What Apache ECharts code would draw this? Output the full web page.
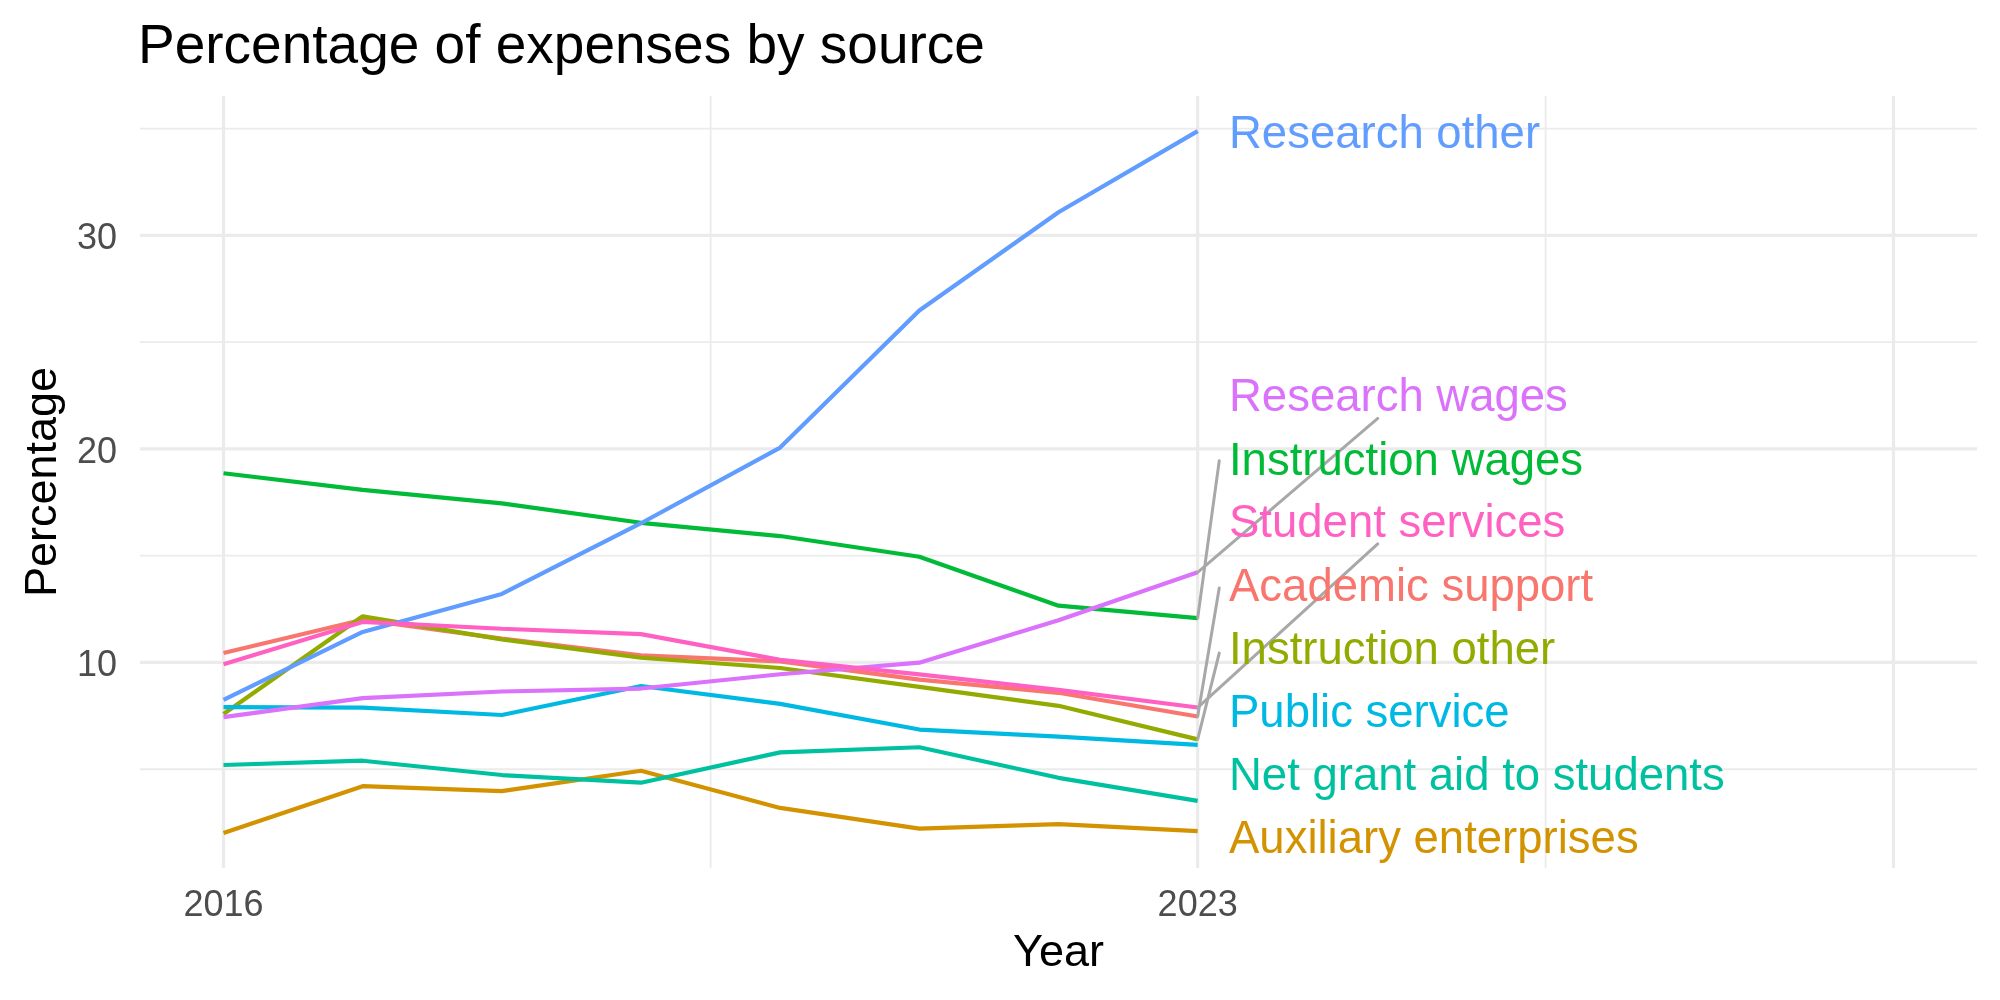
<!DOCTYPE html>
<html>
<head>
<meta charset="utf-8">
<script src="https://cdn.jsdelivr.net/npm/echarts@6/dist/echarts.min.js"></script>
<style>html,body{margin:0;padding:0;background:#fff}#c{width:2000px;height:1000px}</style>
</head>
<body>
<div id="c"></div>
<script>
// ---------- data ----------
const years = [2016, 2017, 2018, 2019, 2020, 2021, 2022, 2023];

const seriesNames = [
  "Academic support", "Auxiliary enterprises", "Instruction other", "Instruction wages",
  "Net grant aid to students", "Public service", "Research other", "Research wages", "Student services"
];
const seriesColors = ["#F8766D", "#D39200", "#93AA00", "#00BA38", "#00C19F", "#00B9E3", "#619CFF", "#DB72FB", "#FF61C3"];

const academicSupport   = [10.44, 12.00, 11.12, 10.33, 10.05, 9.20, 8.58, 7.47];
const auxiliaryEnterprises = [2.02, 4.21, 3.98, 4.93, 3.19, 2.22, 2.43, 2.10];
const instructionOther  = [7.59, 12.16, 11.08, 10.22, 9.74, 8.86, 7.97, 6.40];
const instructionWages  = [18.86, 18.08, 17.45, 16.54, 15.92, 14.95, 12.66, 12.08];
const netGrantAid       = [5.20, 5.40, 4.73, 4.37, 5.79, 6.03, 4.60, 3.52];
const publicService     = [7.91, 7.89, 7.54, 8.90, 8.06, 6.86, 6.53, 6.14];
const researchOther     = [8.25, 11.43, 13.21, 16.52, 20.06, 26.48, 31.08, 34.88];
const researchWages     = [7.44, 8.33, 8.64, 8.78, 9.45, 9.99, 11.98, 14.22];
const studentServices   = [9.92, 11.90, 11.58, 11.33, 10.12, 9.44, 8.72, 7.89];

const seriesValues = [academicSupport, auxiliaryEnterprises, instructionOther, instructionWages,
  netGrantAid, publicService, researchOther, researchWages, studentServices];

// repelled label positions (data units) and connector ends
const labelX = 2023.225;
const labelY = [13.66, 1.84, 10.71, 19.57, 4.81, 7.75, 34.88, 22.54, 16.65];
const segmentEndX = [2023.155, null, 2023.155, 2023.155, null, null, null, 2024.294, 2024.294];
const segmentEndY = [13.49, null, 10.44, 19.44, null, null, null, 21.43, 15.55];

// axis ticks / grid
const xTickLabels = [2016, 2023];
const xGridMajor = [2016, 2023, 2028];
const xGridMinor = [2019.5, 2025.5];
const yTickLabels = [10, 20, 30];
const yGridMinor = [5, 15, 25, 35];
const xDataRange = [2016, 2028];

// ---------- scales (ggplot-style 5% expansion) ----------
const allVals = seriesValues.flat();
const yLo = Math.min(...allVals), yHi = Math.max(...allVals);
const yPad = (yHi - yLo) * 0.05;
const xPad = (xDataRange[1] - xDataRange[0]) * 0.05;

const FONT = "'Liberation Sans', Arial, Helvetica, sans-serif";

function gridSeries(kind, values, width) {
  return {
    type: 'custom', silent: true, z: 1, animation: false,
    data: values.map(v => [v]),
    renderItem: (params, api) => {
      const cs = params.coordSys;
      const v = api.value(0);
      let shape;
      if (kind === 'x') {
        const p = api.coord([v, yLo]);
        shape = { x1: p[0], y1: cs.y, x2: p[0], y2: cs.y + cs.height };
      } else {
        const p = api.coord([xDataRange[0], v]);
        shape = { x1: cs.x, y1: p[1], x2: cs.x + cs.width, y2: p[1] };
      }
      return { type: 'line', shape, style: { stroke: '#EBEBEB', lineWidth: width } };
    }
  };
}

const series = [
  gridSeries('y', yGridMinor, 1.8),
  gridSeries('x', xGridMinor, 1.8),
  gridSeries('y', yTickLabels, 3.2),
  gridSeries('x', xGridMajor, 3.2)
];

seriesNames.forEach((name, i) => {
  series.push({
    name, type: 'line', z: 3, animation: false, silent: true,
    symbol: 'none',
    lineStyle: { color: seriesColors[i], width: 4.2 },
    data: years.map((y, k) => [y, seriesValues[i][k]])
  });
});

// connector segments
const segData = [];
seriesNames.forEach((n, i) => {
  if (segmentEndX[i] !== null) {
    segData.push([years[years.length - 1], seriesValues[i][years.length - 1], segmentEndX[i], segmentEndY[i]]);
  }
});
series.push({
  type: 'custom', z: 4, silent: true, animation: false,
  data: segData,
  renderItem: (params, api) => {
    const a = api.coord([api.value(0), api.value(1)]);
    const b = api.coord([api.value(2), api.value(3)]);
    return { type: 'line', shape: { x1: a[0], y1: a[1], x2: b[0], y2: b[1] },
      style: { stroke: '#A8A8A8', lineWidth: 3, lineCap: 'round' } };
  }
});

// text labels
series.push({
  type: 'custom', z: 5, silent: true, animation: false,
  data: seriesNames.map((n, i) => [labelX, labelY[i], i]),
  renderItem: (params, api) => {
    const p = api.coord([api.value(0), api.value(1)]);
    const i = api.value(2);
    return { type: 'text', x: p[0], y: p[1] + 4,
      style: { text: seriesNames[i], fill: seriesColors[i], fontSize: 45.5, fontFamily: FONT,
        align: 'left', verticalAlign: 'middle' } };
  }
});

const chart = echarts.init(document.getElementById('c'), null, { renderer: 'canvas' });
chart.setOption({
  backgroundColor: '#ffffff',
  animation: false,
  title: {
    text: 'Percentage of expenses by source', left: 138, top: 20, padding: 0,
    textStyle: { fontSize: 55, fontWeight: 'normal', color: '#000', fontFamily: FONT }
  },
  grid: { left: 140, right: 23, top: 96, bottom: 132, containLabel: false },
  xAxis: {
    type: 'value', min: xDataRange[0] - xPad, max: xDataRange[1] + xPad,
    name: 'Year', nameLocation: 'middle', nameGap: 63,
    nameTextStyle: { fontSize: 45, color: '#000', fontFamily: FONT, verticalAlign: 'top' },
    axisLine: { show: false }, axisTick: { show: false }, splitLine: { show: false },
    axisLabel: { customValues: xTickLabels, formatter: v => String(v), fontSize: 36, color: '#4D4D4D', fontFamily: FONT, margin: 20 }
  },
  yAxis: {
    type: 'value', min: yLo - yPad, max: yHi + yPad,
    name: 'Percentage', nameLocation: 'middle', nameGap: 74, nameRotate: 90,
    nameTextStyle: { fontSize: 45, color: '#000', fontFamily: FONT },
    axisLine: { show: false }, axisTick: { show: false }, splitLine: { show: false },
    axisLabel: {
      customValues: yTickLabels, formatter: v => '{t|' + v + '}', margin: 23,
      rich: { t: { fontSize: 36, color: '#4D4D4D', fontFamily: FONT, padding: [8, 0, 0, 0] } }
    }
  },
  series
});
</script>
</body>
</html>
